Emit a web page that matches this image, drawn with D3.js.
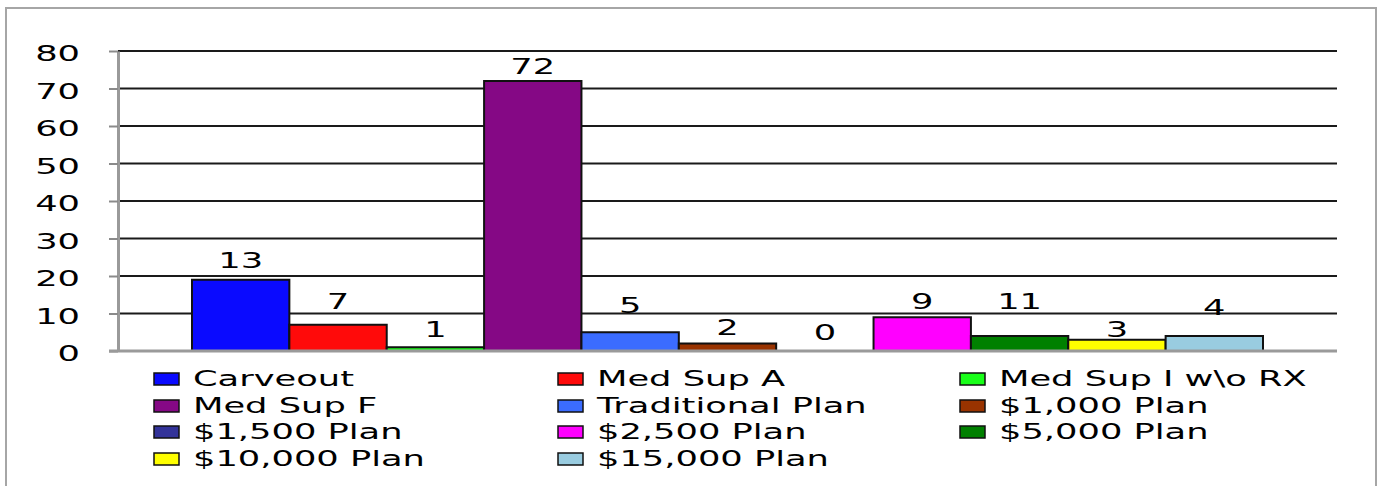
<!DOCTYPE html>
<html><head><meta charset="utf-8">
<script src="https://cdn.jsdelivr.net/npm/d3@7"></script>
<style>html,body{margin:0;padding:0;background:#fff;overflow:hidden}</style>
</head><body><svg id="c" width="1382" height="486"></svg>
<script>
const seriesNames = ["Carveout","Med Sup A","Med Sup I w\\o RX","Med Sup F","Traditional Plan","$1,000 Plan","$1,500 Plan","$2,500 Plan","$5,000 Plan","$10,000 Plan","$15,000 Plan"];
const barValues   = [19, 7, 1, 72, 5, 2, 0, 9, 4, 3, 4];
const labelTexts  = ["13","7","1","72","5","2","0","9","11","3","4"];
const labelAt     = [22.1, 11.2, 3.7, 73.9, 10.1, 4.3, 2.9, 11.2, 11.2, 3.7, 9.6];
const colors      = ["#0a0aff","#ff0a0a","#19ff19","#850885","#3b6cff","#993300","#333399","#ff00ff","#008000","#ffff00","#99cce0"];
const yTicks      = [0,10,20,30,40,50,60,70,80];

const svg = d3.select("#c");
const FONT = "DejaVu Sans", FS = 20.5, SX = 1.72;
function txt(g, px, py, s, anchor, dy) {
  return g.append("text").attr("transform", `translate(${px},${py}) scale(${SX},1)`)
    .attr("text-anchor", anchor).attr("dy", dy || 0)
    .attr("font-family", FONT).attr("font-size", FS).attr("fill", "#000").text(s);
}

// frame
svg.append("rect").attr("x",6).attr("y",8).attr("width",1370).attr("height",490)
  .attr("fill","#fff").attr("stroke","#a6a6a6").attr("stroke-width",2);

const plotL = 118, plotR = 1337, plotT = 51, plotB = 351;
const x = d3.scaleBand().domain(seriesNames).range([plotL, plotR]).paddingInner(0).paddingOuter(0.76);
const y = d3.scaleLinear().domain([0, 80]).range([plotB, plotT]);

// gridlines
svg.append("g").selectAll("line").data(yTicks.filter(d => d > 0)).join("line")
  .attr("x1", plotL).attr("x2", plotR).attr("y1", d => y(d)).attr("y2", d => y(d))
  .attr("stroke", "#1a1a1a").attr("stroke-width", 2);

// y axis via d3 axis
const yAxis = d3.axisLeft(y).tickValues(yTicks).tickSize(9).tickSizeOuter(0).tickFormat("");
const ga = svg.append("g").attr("transform", `translate(${plotL},0)`).call(yAxis);
ga.select(".domain").attr("stroke", "#9a9a9a").attr("stroke-width", 3);
ga.selectAll(".tick line").attr("stroke", "#8a8a8a").attr("stroke-width", 2);
yTicks.forEach(t => txt(svg, 80, y(t) + 3, String(t), "end", "0.36em"));

// bars
svg.append("g").selectAll("rect").data(seriesNames).join("rect")
  .attr("x", d => x(d)).attr("width", x.bandwidth())
  .attr("y", (d, i) => y(barValues[i])).attr("height", (d, i) => y(0) - y(barValues[i]))
  .attr("fill", (d, i) => colors[i]).attr("stroke", "#111").attr("stroke-width", 2)
  .attr("display", (d, i) => barValues[i] > 0 ? null : "none");

// baseline
svg.append("line").attr("x1", plotL - 9).attr("x2", plotR).attr("y1", y(0)).attr("y2", y(0))
  .attr("stroke", "#9a9a9a").attr("stroke-width", 3);

// data labels
seriesNames.forEach((d, i) => txt(svg, x(d) + x.bandwidth() / 2, y(labelAt[i]), labelTexts[i], "middle"));

// legend
const colX = [154, 558, 960], rowY = [379, 406, 432, 459];
seriesNames.forEach((d, i) => {
  const cx = colX[i % 3], cy = rowY[Math.floor(i / 3)];
  svg.append("rect").attr("x", cx).attr("y", cy - 6).attr("width", 25).attr("height", 12)
    .attr("fill", colors[i]).attr("stroke", "#111").attr("stroke-width", 1.5);
  txt(svg, cx + 39, cy, d, "start", "0.36em");
});
</script></body></html>
